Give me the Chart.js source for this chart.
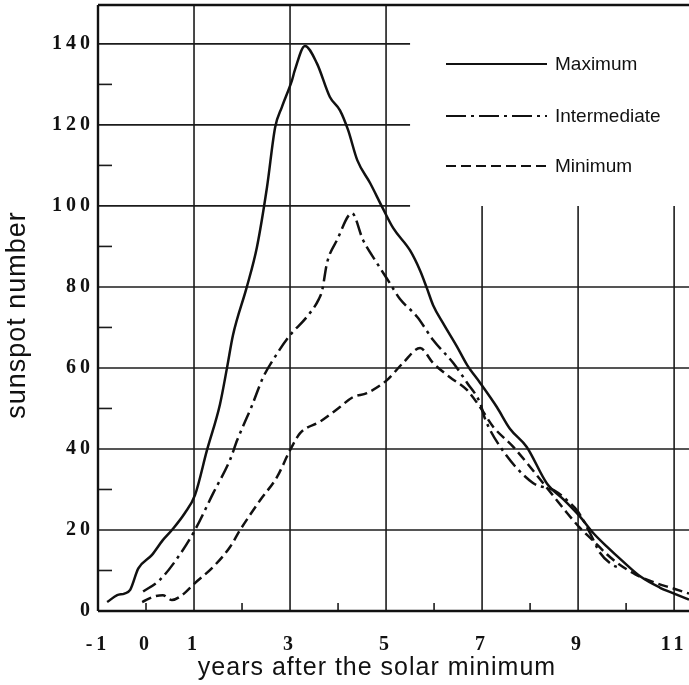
<!DOCTYPE html>
<html><head><meta charset="utf-8">
<script src="https://cdn.jsdelivr.net/npm/chart.js@4"></script>
<style>html,body{margin:0;padding:0;background:#fff;}</style>
</head><body>
<canvas id="c" width="689" height="685"></canvas>
<script>
// ---- data ----
const xTicks = [-1, 0, 1, 3, 5, 7, 9, 11];
const yTicks = [0, 20, 40, 60, 80, 100, 120, 140];
const xGridLines = [1, 3, 5, 7, 9, 11];
const xMinorTicks = [0, 2, 4, 6, 8, 10];
const yMinorTicks = [10, 30, 50, 70, 90, 110, 130];
const seriesNames = ['Maximum', 'Intermediate', 'Minimum'];

const maxYears  = [-0.81,-0.6,-0.45,-0.33,-0.16,0.12,0.35,0.54,0.81,1.02,1.27,1.54,1.69,1.81,2.1,2.31,2.52,2.69,2.83,3.04,3.1,3.31,3.56,3.83,4.04,4.21,4.4,4.67,4.92,5.15,5.5,5.71,5.85,5.98,6.19,6.48,6.69,6.96,7.31,7.58,7.93,8.35,8.7,9.04,9.32,9.6,9.91,10.3,10.7,11.0,11.31];
const maxValues = [2.2,3.9,4.3,5.2,10.5,13.8,17.5,20,24.2,28.6,39.7,51,60.2,68,80,89.8,104.6,119.4,124.4,131,133.5,139.5,135.2,126.9,123.6,118.7,111.3,105.6,99.7,94.5,89,84,79.7,75.5,71,65.2,60.7,56.3,50.3,45,40.5,31.5,27.5,23.3,19.2,15.9,12.5,8.5,5.8,4.3,2.8];

const intYears  = [-0.06,0.29,0.65,1.02,1.4,1.75,1.9,2.2,2.44,2.7,3.0,3.35,3.6,3.67,3.77,3.98,4.29,4.52,4.81,5.08,5.29,5.65,5.98,6.4,6.69,6.96,7.06,7.38,8.06,8.5,8.8,9.0,9.25,9.46,9.7,9.9];
const intValues = [4.8,7.7,13,20,29.1,37.3,42.2,50.5,57.7,63,68.1,72.6,77,79.2,85.9,91.6,98.2,91.6,85.9,80.9,77,72.6,66.9,61.2,56.3,51.3,47.5,40.5,31.6,29.8,27,24.5,19.2,14.3,11.5,10.5];

const minYears  = [-0.08,0.15,0.35,0.54,0.75,1.02,1.4,1.75,1.96,2.38,2.73,3.0,3.21,3.63,4.0,4.31,4.6,5.02,5.35,5.71,5.98,6.33,6.69,6.96,7.23,7.65,8.27,8.77,9.04,9.3,9.6,9.8,10.2,10.6,11.0,11.31];
const minValues = [2.2,3.5,3.9,2.7,3.9,6.9,10.9,15.8,20,27.4,33.1,39.7,43.9,46.8,50,52.8,53.8,57,61.2,64.9,61.2,57.7,54.5,50.3,45.5,40.5,31.6,24.2,20.5,17.5,14,12,9,7,5.5,4.3];

const toPoints = (xs, ys) => xs.map((v, i) => ({x: v, y: ys[i]}));

const framePlugin = {
  id: 'frame',
  beforeDraw(chart) { chart.ctx.letterSpacing = '4px'; },
  beforeDatasetsDraw(chart) {
    const {ctx, chartArea: a, scales: {x, y}} = chart;
    const seg = (x1, y1, x2, y2) => { ctx.beginPath(); ctx.moveTo(x1, y1); ctx.lineTo(x2, y2); ctx.stroke(); };
    ctx.save();
    ctx.letterSpacing = '0px';
    ctx.strokeStyle = '#1c1c1c';
    ctx.lineWidth = 1.6;
    yTicks.forEach(v => {
      if (v === 0) return;
      const py = y.getPixelForValue(v);
      const xe = v >= 100 ? x.getPixelForValue(5.5) : a.right;
      seg(a.left, py, xe, py);
    });
    xGridLines.forEach(v => {
      const px = x.getPixelForValue(v);
      const ys = v >= 7 ? y.getPixelForValue(100) : a.top;
      seg(px, ys, px, a.bottom);
    });
    yMinorTicks.forEach(v => { const py = y.getPixelForValue(v); seg(a.left, py, a.left + 14, py); });
    xMinorTicks.forEach(v => { const px = x.getPixelForValue(v); seg(px, a.bottom, px, a.bottom - 8); });
    ctx.lineWidth = 2.4;
    ctx.strokeStyle = '#111';
    seg(a.left, a.top, a.right, a.top);
    seg(a.left, a.top, a.left, a.bottom);
    seg(a.left, a.bottom, a.right, a.bottom);
    ctx.restore();
  },
  afterDraw(chart) {
    const ctx = chart.ctx;
    ctx.save();
    ctx.fillStyle = '#111';
    ctx.letterSpacing = '1px';
    ctx.font = '25px "Liberation Sans", Arial, sans-serif';
    ctx.textAlign = 'center';
    ctx.textBaseline = 'alphabetic';
    ctx.fillText('years after the solar minimum', 377, 675);
    ctx.save();
    ctx.translate(25, 315);
    ctx.rotate(-Math.PI / 2);
    ctx.font = '27px "Liberation Sans", Arial, sans-serif';
    ctx.fillText('sunspot number', 0, 0);
    ctx.restore();
    // legend
    ctx.letterSpacing = '0px';
    ctx.font = '19px "Liberation Sans", Arial, sans-serif';
    ctx.textAlign = 'left';
    ctx.textBaseline = 'middle';
    const rowsY = [64, 116, 166];
    chart.data.datasets.forEach((ds, i) => {
      ctx.strokeStyle = '#111';
      ctx.lineWidth = 2;
      ctx.setLineDash(ds.legendDash);
      ctx.beginPath(); ctx.moveTo(446, rowsY[i]); ctx.lineTo(547, rowsY[i]); ctx.stroke();
      ctx.setLineDash([]);
      ctx.fillText(ds.label, 555, rowsY[i] + 1);
    });
    ctx.restore();
  }
};

new Chart(document.getElementById('c'), {
  type: 'line',
  data: {
    datasets: [
      {label: seriesNames[0], data: toPoints(maxYears, maxValues), borderDash: [], legendDash: []},
      {label: seriesNames[1], data: toPoints(intYears, intValues), borderDash: [15, 5, 3, 5], legendDash: [20, 5, 3, 5]},
      {label: seriesNames[2], data: toPoints(minYears, minValues), borderDash: [10, 5], legendDash: [10, 5]}
    ].map(d => Object.assign(d, {borderColor: '#111', borderWidth: 2.5, pointRadius: 0, fill: false, cubicInterpolationMode: 'monotone'}))
  },
  options: {
    responsive: false,
    animation: false,
    devicePixelRatio: 1,
    layout: {padding: {top: 5, right: 0, left: 0, bottom: 0}},
    plugins: {legend: {display: false}, tooltip: {enabled: false}},
    scales: {
      x: {
        type: 'linear', min: -1, max: 11.31,
        grid: {display: false, drawTicks: false},
        border: {display: false},
        afterBuildTicks: s => { s.ticks = xTicks.map(v => ({value: v})); },
        afterFit: s => { s.height = 74; s.paddingLeft = 0; s.paddingRight = 0; },
        ticks: {color: '#111', padding: 22, maxRotation: 0, autoSkip: false,
          font: {family: '"Liberation Serif", "Times New Roman", serif', size: 20, weight: 'bold'}}
      },
      y: {
        type: 'linear', min: 0, max: 149.6,
        grid: {display: false, drawTicks: false},
        border: {display: false},
        afterBuildTicks: s => { s.ticks = yTicks.map(v => ({value: v})); },
        afterFit: s => { s.width = 98; s.paddingTop = 0; s.paddingBottom = 0; },
        ticks: {color: '#111', padding: 4,
          font: {family: '"Liberation Serif", "Times New Roman", serif', size: 20, weight: 'bold'}}
      }
    }
  },
  plugins: [framePlugin]
});
</script>
</body></html>
